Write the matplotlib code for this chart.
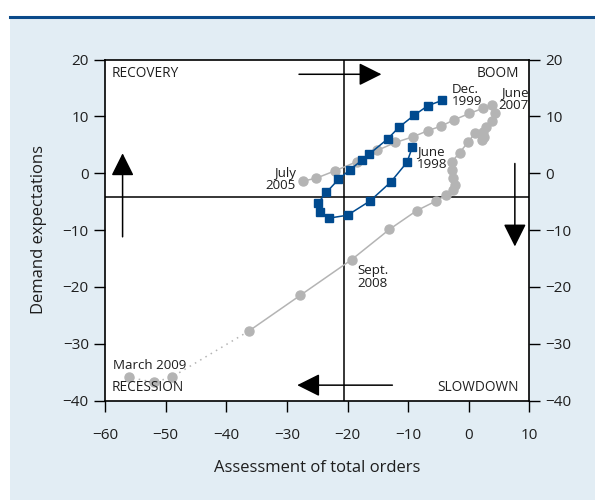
import matplotlib
matplotlib.use("Agg")
import matplotlib.pyplot as plt
from matplotlib.patches import Rectangle
from matplotlib.lines import Line2D

plt.rcParams['font.family'] = ['Open Sans', 'DejaVu Sans']
plt.rcParams['axes.unicode_minus'] = True

# Blue series: June 1998 -> Dec. 1999
blue_x = [-9.3, -10.2, -12.9, -16.3, -20.0, -23.0, -24.5, -24.9, -23.5, -21.5,
          -19.6, -17.6, -16.5, -13.4, -11.5, -9.0, -6.7, -4.4]
blue_y = [4.6, 1.9, -1.6, -4.9, -7.4, -7.9, -6.8, -5.3, -3.4, -1.1,
          0.6, 2.3, 3.3, 6.0, 8.1, 10.2, 11.9, 12.8]

# Grey series: July 2005 -> Dec. 2008 (solid)
grey_x = [-27.4, -25.2, -22.1, -18.5, -15.1, -12.1, -9.2, -6.7, -4.5, -2.4,
          0.1, 2.3, 3.9, 4.3, 3.8, 2.8, 2.3, 2.5, 2.1, 1.0, -0.1,
          -1.5, -2.8, -2.8, -2.6, -2.3, -2.6, -3.7, -5.4, -8.6, -13.1,
          -19.3, -27.8, -36.3]
grey_y = [-1.4, -0.9, 0.4, 2.0, 4.0, 5.4, 6.4, 7.5, 8.3, 9.4,
          10.5, 11.4, 12.0, 10.5, 9.1, 8.2, 7.3, 6.4, 5.8, 7.0, 5.5,
          3.6, 2.0, 0.6, -0.9, -2.1, -3.0, -3.8, -4.9, -6.6, -9.9,
          -15.2, -21.5, -27.8]
# Grey series continuation to March 2009 (dotted)
dot_x = [-36.3, -49.0, -52.0, -56.0]
dot_y = [-27.8, -35.9, -36.8, -35.9]

h_ref = -4.2
v_ref = -20.5

x_ticks = [-60, -50, -40, -30, -20, -10, 0, 10]
y_ticks = [-40, -30, -20, -10, 0, 10, 20]

grey = '#b4b4b4'
blue = '#004a8f'
txt = '#1e1e1e'

fig = plt.figure(figsize=(5.95, 5.0), dpi=100)
fig.patch.set_facecolor('white')
fig.patches.append(Rectangle((10/595, 0), 1 - 10/595, (500 - 17)/500,
                             transform=fig.transFigure, facecolor='#e2edf4',
                             edgecolor='none', zorder=-10))
fig.lines.append(Line2D([10/595, 1], [1 - 16.5/500, 1 - 16.5/500],
                        transform=fig.transFigure, color='#0b4a8a', lw=2.2))

ax = fig.add_axes([105/595, 1 - 400.5/500, (529.4 - 105)/595, (400.5 - 59.5)/500])
ax.set_facecolor('white')
ax.set_xlim(-60, 10)
ax.set_ylim(-40, 20)
ax.set_xticks(x_ticks)
ax.set_yticks(y_ticks)
ax.tick_params(direction='out', length=7.7, width=1, labelsize=11, colors='black',
               labelcolor=txt, left=True, right=True, labelleft=True,
               labelright=True, pad=4)
ax.tick_params(axis='x', pad=12)
for s in ax.spines.values():
    s.set_linewidth(1.2)
    s.set_color('black')

ax.axhline(h_ref, color='black', lw=1.1, zorder=2)
ax.axvline(v_ref, color='black', lw=1.1, zorder=2)

ax.plot(grey_x, grey_y, color=grey, lw=1.1, marker='o', ms=6.5,
        mec=grey, mfc=grey, zorder=3)
ax.plot(dot_x, dot_y, color=grey, lw=1.1, ls=(0, (1, 3)), zorder=3)
ax.plot(dot_x[1:], dot_y[1:], color=grey, lw=0, marker='o', ms=6.5,
        mec=grey, mfc=grey, zorder=3)
ax.plot(blue_x, blue_y, color=blue, lw=1.1, marker='s', ms=6,
        mec=blue, mfc=blue, zorder=4)

# quadrant labels
qfs = 9.8
ax.text(-58.85, 17.45, 'RECOVERY', fontsize=qfs, ha='left', va='center', color=txt)
ax.text(8.3, 17.45, 'BOOM', fontsize=qfs, ha='right', va='center', color=txt)
ax.text(-58.85, -37.8, 'RECESSION', fontsize=qfs, ha='left', va='center', color=txt)
ax.text(8.3, -37.8, 'SLOWDOWN', fontsize=qfs, ha='right', va='center', color=txt)

# point labels
lfs = 9.6
ax.text(-2.8, 13.7, 'Dec.\n1999', fontsize=lfs, ha='left', va='center', linespacing=0.95, color=txt)
ax.text(9.9, 13.0, 'June\n2007', fontsize=lfs, ha='right', va='center', linespacing=0.95, color=txt)
ax.text(-8.5, 2.7, 'June\n1998', fontsize=lfs, ha='left', va='center', linespacing=1.05, color=txt)
ax.text(-28.5, -1.1, 'July\n2005', fontsize=lfs, ha='right', va='center', linespacing=0.95, color=txt)
ax.text(-18.4, -18.3, 'Sept.\n2008', fontsize=lfs, ha='left', va='center', linespacing=0.95, color=txt)
ax.text(-58.7, -33.9, 'March 2009', fontsize=lfs, ha='left', va='center', color=txt)

def arrow(tail, tip):
    ax.annotate('', xy=tip, xytext=tail, xycoords='data', textcoords='data',
                arrowprops=dict(arrowstyle='-|>,head_length=1.4,head_width=0.7',
                                mutation_scale=10, lw=1.1, color='black',
                                shrinkA=0, shrinkB=0), zorder=5)

arrow((-28.0, 17.4), (-14.4, 17.4))
arrow((-57.1, -11.2), (-57.1, 3.5))
arrow((7.6, 1.7), (7.6, -12.9))
arrow((-12.6, -37.3), (-28.3, -37.3))

ax.set_xlabel('Assessment of total orders', fontsize=12, color=txt)
ax.set_ylabel('Demand expectations', fontsize=12, color=txt)
ax.xaxis.set_label_coords(0.5, (400.5 - 460) / 341, transform=ax.transAxes)
ax.yaxis.set_label_coords((47 - 105) / 424.4, 0.5, transform=ax.transAxes)

fig.savefig('out.png', dpi=100, facecolor=fig.get_facecolor())
